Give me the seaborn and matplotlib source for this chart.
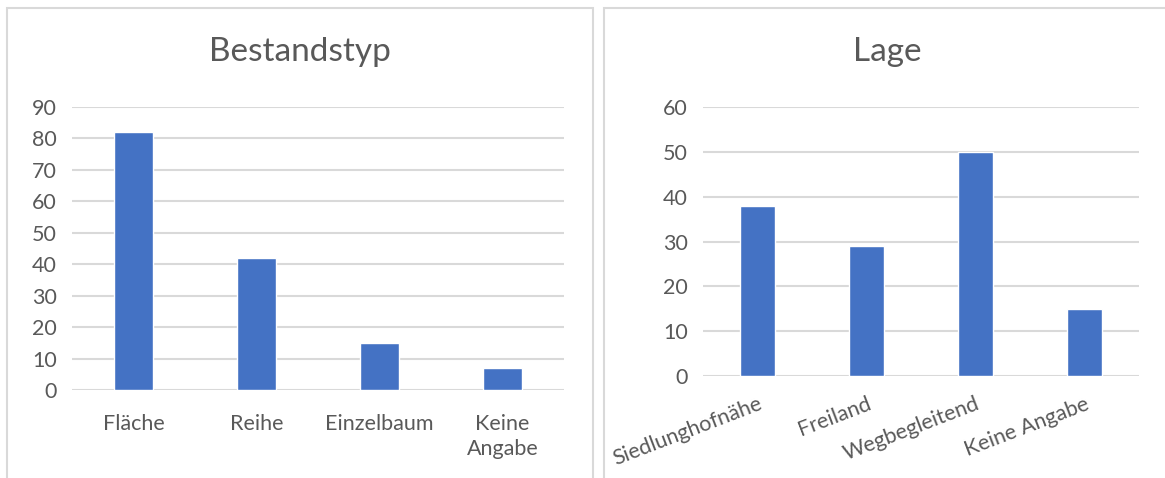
import matplotlib
matplotlib.use("Agg")
import matplotlib.pyplot as plt
import seaborn as sns
import pandas as pd
from matplotlib.patches import Rectangle

# data
bestand_cats = ["Fläche", "Reihe", "Einzelbaum", "Keine\nAngabe"]
bestand_vals = [82, 42, 15, 7]
lage_cats = ["Siedlunghofnähe", "Freiland", "Wegbegleitend", "Keine Angabe"]
lage_vals = [38, 29, 50, 15]

BLUE = "#4472C4"
GRID = "#D9D9D9"
TEXT = "#595959"

sns.set_theme(style="white")
plt.rcParams["font.family"] = ["Lato", "DejaVu Sans"]

fig = plt.figure(figsize=(11.65, 4.78), dpi=100)
W, H = 1165, 478

def px(x0, y0, x1, y1):
    # pixel box (top-left origin) -> fig fraction [l, b, w, h]
    return [x0 / W, 1 - y1 / H, (x1 - x0) / W, (y1 - y0) / H]

# panel borders
for x0, x1 in [(7, 593), (604, 1175)]:
    fig.patches.append(Rectangle((x0 / W, -0.05), (x1 - x0) / W, 1 - 8 / H + 0.05,
                                 transform=fig.transFigure, fill=False,
                                 edgecolor=GRID, linewidth=1.5))

ax1 = fig.add_axes(px(72, 107, 564, 390))
ax2 = fig.add_axes(px(703, 107, 1139, 376))

df1 = pd.DataFrame({"cat": bestand_cats, "val": bestand_vals})
df2 = pd.DataFrame({"cat": lage_cats, "val": lage_vals})

sns.barplot(data=df1, x="cat", y="val", color=BLUE, saturation=1, width=0.31, ax=ax1)
sns.barplot(data=df2, x="cat", y="val", color=BLUE, saturation=1, width=0.33, ax=ax2)

for ax, top, step in [(ax1, 90, 10), (ax2, 60, 10)]:
    ax.set_ylim(0, top)
    ax.set_xlim(-0.5, 3.5)
    ax.set_yticks(range(0, top + 1, step))
    ax.yaxis.grid(True, color=GRID, linewidth=1.5)
    ax.set_axisbelow(True)
    for s in ax.spines.values():
        s.set_visible(False)
    ax.set_xlabel("")
    ax.set_ylabel("")
    ax.tick_params(axis="both", length=0, labelsize=15.5, labelcolor=TEXT)
    ax.tick_params(axis="y", pad=11)

ax1.tick_params(axis="x", pad=17)
for lbl in ax1.get_xticklabels():
    lbl.set_linespacing(1.35)

for lbl in ax2.get_xticklabels():
    lbl.set_rotation(21)
    lbl.set_ha("right")
    lbl.set_rotation_mode("anchor")
ax2.tick_params(axis="x", pad=13)

fig.text(300 / W, 1 - 52 / H, "Bestandstyp", ha="center", va="center", fontsize=24, color=TEXT)
fig.text(887 / W, 1 - 52 / H, "Lage", ha="center", va="center", fontsize=24, color=TEXT)

fig.savefig("out.png", dpi=100, facecolor="white")
